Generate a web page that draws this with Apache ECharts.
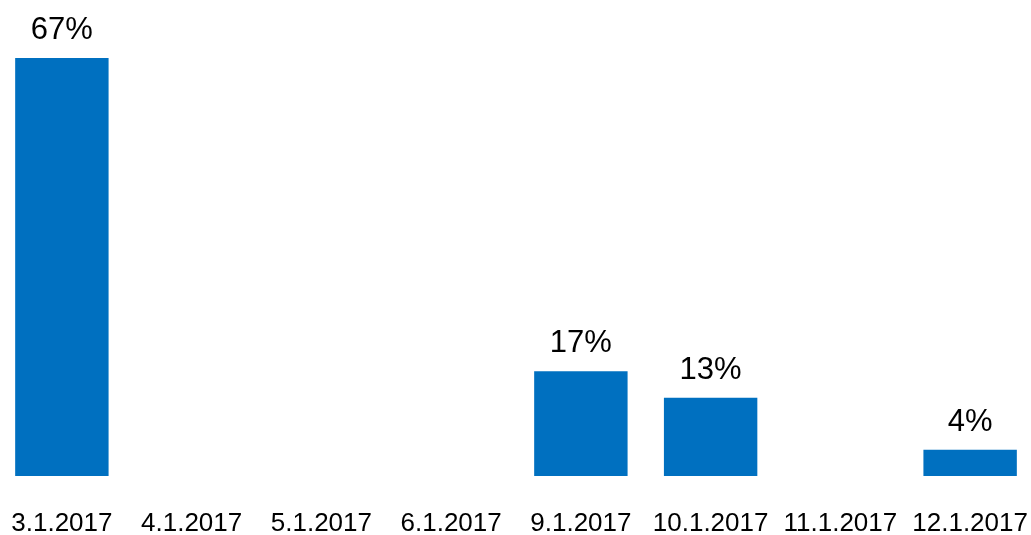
<!DOCTYPE html>
<html>
<head>
<meta charset="utf-8">
<script src="https://cdn.jsdelivr.net/npm/echarts@6/dist/echarts.min.js"></script>
<style>
html,body{margin:0;padding:0;background:#fff;overflow:hidden;}
#c{width:1038px;height:535px;margin-left:-3px;}
</style>
</head>
<body>
<div id="c"></div>
<script>
const categories = ['3.1.2017','4.1.2017','5.1.2017','6.1.2017','9.1.2017','10.1.2017','11.1.2017','12.1.2017'];
const values = [66.7, 0, 0, 0, 16.7, 12.5, 0, 4.2];

const chart = echarts.init(document.getElementById('c'), null, {renderer: 'canvas'});
chart.setOption({
  animation: false,
  backgroundColor: '#ffffff',
  grid: {left: 0, right: 0, top: 58, bottom: 59, containLabel: false, outerBoundsMode: 'none'},
  xAxis: {
    type: 'category',
    data: categories,
    axisLine: {show: false},
    axisTick: {show: false},
    axisLabel: {
      color: '#000000',
      fontFamily: 'Liberation Sans, Arial, sans-serif',
      fontSize: 26,
      margin: 35,
      interval: 0
    }
  },
  yAxis: {
    type: 'value',
    min: 0,
    max: 66.7,
    show: false,
    splitLine: {show: false}
  },
  series: [{
    type: 'bar',
    data: values,
    barWidth: '72%',
    itemStyle: {color: '#0070C0'},
    label: {
      show: true,
      position: 'top',
      distance: 12,
      color: '#000000',
      fontFamily: 'Liberation Sans, Arial, sans-serif',
      fontSize: 31,
      formatter: p => p.value ? Math.round(p.value) + '%' : ''
    }
  }]
});
</script>
</body>
</html>
